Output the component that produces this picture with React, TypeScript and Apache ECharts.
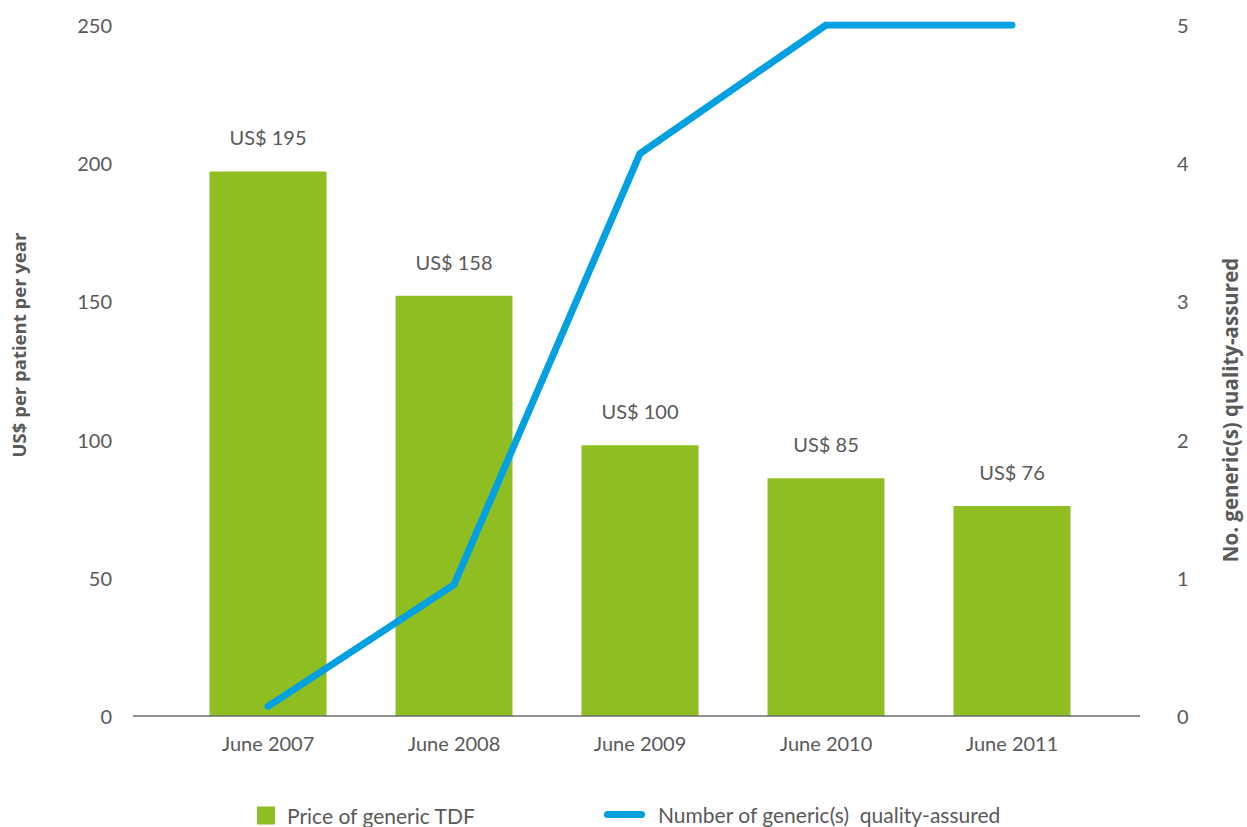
import React, { useEffect, useRef } from "react";
import * as echarts from "echarts";

const categories = ["June 2007", "June 2008", "June 2009", "June 2010", "June 2011"];
const priceValues = [197, 152, 98, 86, 76];
const priceLabels = ["US$ 195", "US$ 158", "US$ 100", "US$ 85", "US$ 76"];
const genericCounts = [0.07, 0.95, 4.07, 5, 5];
const leftTicks = { min: 0, max: 250, interval: 50 };
const rightTicks = { min: 0, max: 5, interval: 1 };

const GREEN = "#8FBE22";
const BLUE = "#00A0E1";
const TEXT = "#595959";
const FONT = "Lato, 'Noto Sans', sans-serif";
const BOLD_FONT = "'Open Sans', 'Noto Sans', sans-serif";

export default function App() {
  const ref = useRef<HTMLDivElement>(null);
  useEffect(() => {
    if (!ref.current) return;
    const chart = echarts.init(ref.current, null, { renderer: "svg" });
    chart.setOption({
      animation: false,
      backgroundColor: "#ffffff",
      grid: { left: 175, right: 142, top: 25, bottom: 111 },
      xAxis: {
        type: "category",
        data: categories,
        axisLine: { show: false },
        axisTick: { show: false },
        axisLabel: { color: TEXT, fontSize: 20, fontFamily: FONT, margin: 17 },
      },
      yAxis: [
        {
          type: "value",
          min: leftTicks.min,
          max: leftTicks.max,
          interval: leftTicks.interval,
          splitLine: { show: false },
          axisLine: { show: false },
          axisTick: { show: false },
          axisLabel: { color: TEXT, fontSize: 20, fontFamily: FONT, margin: 63 },
        },
        {
          type: "value",
          min: rightTicks.min,
          max: rightTicks.max,
          interval: rightTicks.interval,
          position: "right",
          splitLine: { show: false },
          axisLine: { show: false },
          axisTick: { show: false },
          axisLabel: { color: TEXT, fontSize: 20, fontFamily: FONT, margin: 72 },
        },
      ],
      legend: [
        {
          data: [{ name: "Price of generic TDF", icon: "rect" }],
          left: 257,
          top: 805,
          padding: 0,
          itemWidth: 18,
          itemHeight: 18,
          textStyle: { color: TEXT, fontSize: 21, fontFamily: FONT, padding: [0, 0, 0, 7] },
          selectedMode: false,
        },
        {
          data: [
            {
              name: "Number of generic(s)  quality-assured",
              icon: "path://M3.5,0 H37.5 A3.5,3.5 0 0 1 37.5,7 H3.5 A3.5,3.5 0 0 1 3.5,0 Z",
            },
          ],
          left: 604,
          top: 804,
          padding: 0,
          itemWidth: 41,
          itemHeight: 7,
          textStyle: { color: TEXT, fontSize: 21, fontFamily: FONT, padding: [0, 0, 0, 8] },
          selectedMode: false,
        },
      ],
      graphic: [
        {
          type: "line",
          shape: { x1: 133, y1: 716, x2: 1140, y2: 716 },
          style: { stroke: "#6b6b6b", lineWidth: 1.5 },
          z: 10,
        },
        {
          type: "text",
          x: 18,
          y: 345,
          rotation: Math.PI / 2,
          style: {
            text: "US$ per patient per year",
            fill: TEXT,
            font: `bold 18.5px ${BOLD_FONT}`,
            align: "center",
            verticalAlign: "middle",
          },
        },
        {
          type: "text",
          x: 1230,
          y: 410,
          rotation: Math.PI / 2,
          style: {
            text: "No. generic(s) quality-assured",
            fill: TEXT,
            font: `bold 20.5px ${BOLD_FONT}`,
            align: "center",
            verticalAlign: "middle",
          },
        },
      ],
      series: [
        {
          name: "Price of generic TDF",
          type: "bar",
          yAxisIndex: 0,
          data: priceValues,
          barWidth: 117,
          itemStyle: { color: GREEN },
          label: {
            show: true,
            position: "top",
            distance: 24,
            color: TEXT,
            fontSize: 20,
            fontFamily: FONT,
            formatter: (p: any) => priceLabels[p.dataIndex],
          },
        },
        {
          name: "Number of generic(s)  quality-assured",
          type: "line",
          yAxisIndex: 1,
          data: genericCounts,
          symbol: "none",
          lineStyle: { color: BLUE, width: 7, cap: "round", join: "miter" },
          itemStyle: { color: BLUE },
          z: 5,
        },
      ],
    });
    return () => chart.dispose();
  }, []);
  return (
    <div
      ref={ref}
      style={{ position: "fixed", left: 0, top: 0, width: 1247, height: 827 }}
    />
  );
}
